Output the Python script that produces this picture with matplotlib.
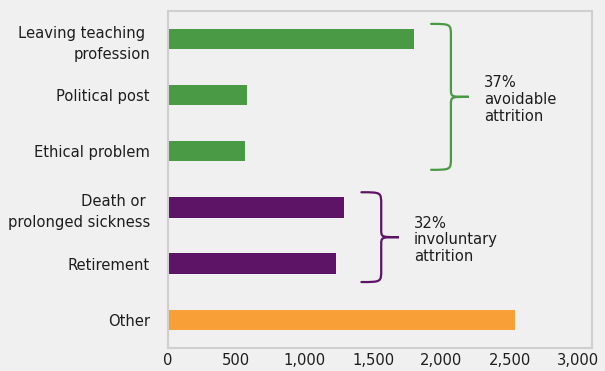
import matplotlib
matplotlib.use("Agg")
import matplotlib.pyplot as plt
from matplotlib.path import Path
from matplotlib.patches import PathPatch

categories = ["Leaving teaching \nprofession", "Political post", "Ethical problem",
              "Death or \nprolonged sickness", "Retirement", "Other"]
values = [1800, 575, 565, 1290, 1230, 2540]
groups = ["avoidable", "avoidable", "avoidable", "involuntary", "involuntary", "other"]
group_colors = {"avoidable": "#4a9a45", "involuntary": "#5e1466", "other": "#f99f38"}
group_labels = {"avoidable": "37%\navoidable\nattrition",
                "involuntary": "32%\ninvoluntary\nattrition"}
xticks = [0, 500, 1000, 1500, 2000, 2500, 3000]
xticklabels = ["0", "500", "1,000", "1,500", "2,000", "2,500", "3,000"]

plt.rcParams['font.family'] = ['DejaVu Sans']
plt.rcParams['font.stretch'] = 'condensed'
FS = 11.8
BG = "#f0f0f0"
fig = plt.figure(figsize=(6.05, 3.71), dpi=100, facecolor=BG)
ax = fig.add_axes([168/605, 1-347.7/371, (591.7-168)/605, (347.7-11)/371])
ax.set_facecolor(BG)

ypos = list(range(len(categories)))
ax.barh(ypos, values, height=0.36, color=[group_colors[g] for g in groups])
ax.set_ylim(len(categories)-0.5, -0.5)
ax.set_xlim(0, 3100)
ax.set_yticks(ypos)
ax.set_yticklabels(categories, fontsize=FS, color="#1e1e1e", linespacing=1.5)
ax.set_xticks(xticks)
ax.set_xticklabels(xticklabels, fontsize=FS, color="#1e1e1e")
ax.tick_params(length=0)
ax.tick_params(axis='y', pad=13)
ax.tick_params(axis='x', pad=4)
for s in ax.spines.values():
    s.set_color("#cfcfcf")
    s.set_linewidth(1.5)


def brace(ax, x0, ytop, ybot, w, p, color):
    ymid = (ytop + ybot) / 2
    r = 0.22
    verts = [
        (x0, ytop),
        (x0 + w, ytop), (x0 + w, ytop), (x0 + w, ytop + r),
        (x0 + w, ymid - r * 0.6),
        (x0 + w, ymid), (x0 + w, ymid), (x0 + w + p, ymid),
        (x0 + w, ymid), (x0 + w, ymid), (x0 + w, ymid + r * 0.6),
        (x0 + w, ybot - r),
        (x0 + w, ybot), (x0 + w, ybot), (x0, ybot),
    ]
    codes = [Path.MOVETO,
             Path.CURVE4, Path.CURVE4, Path.CURVE4,
             Path.LINETO,
             Path.CURVE4, Path.CURVE4, Path.CURVE4,
             Path.CURVE4, Path.CURVE4, Path.CURVE4,
             Path.LINETO,
             Path.CURVE4, Path.CURVE4, Path.CURVE4]
    ax.add_patch(PathPatch(Path(verts, codes), fill=False, edgecolor=color,
                           lw=1.6, clip_on=False, capstyle='round'))
    return x0 + w + p, ymid


for g, label in group_labels.items():
    idx = [i for i, gg in enumerate(groups) if gg == g]
    top, bot = min(idx) - 0.27, max(idx) + 0.33
    gmax = max(values[i] for i in idx)
    x0 = gmax + 125
    xend, ymid = brace(ax, x0, top, bot, 145, 130, group_colors[g])
    ax.text(xend + 110, ymid + 0.05, label, fontsize=FS, color="#1e1e1e",
            va="center", ha="left", linespacing=1.15)

fig.savefig("out.png", dpi=100, facecolor=BG)
